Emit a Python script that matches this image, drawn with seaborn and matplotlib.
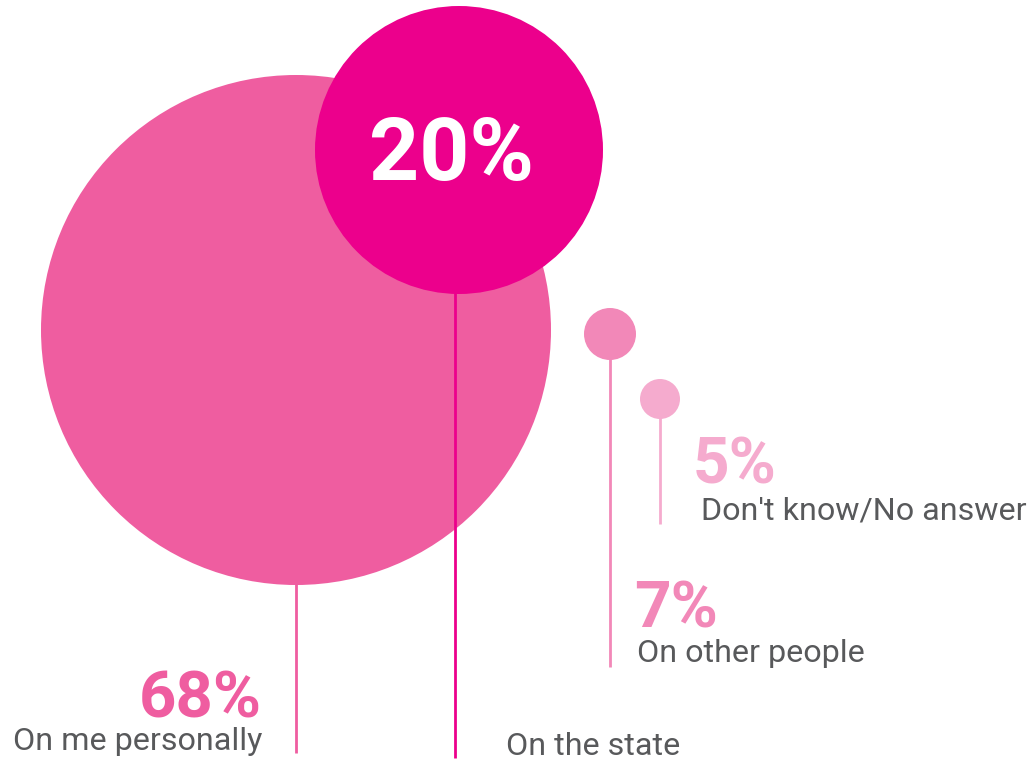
import matplotlib
matplotlib.use("Agg")
import matplotlib.pyplot as plt
from matplotlib.patches import Circle
import seaborn as sns

# ---- data ----
labels = ["On me personally", "On the state", "On other people", "Don't know/No answer"]
values = [68, 20, 7, 5]
colors = ["#EF5DA0", "#EC008C", "#F288B8", "#F5ABCE"]

# ---- layout (pixel space) ----
cx = [296, 459, 610, 660]
cy = [330, 150, 334, 399]
radius = [255, 144, 26, 20]
stem_x = [296, 455, 610, 660]
stem_end = [753, 758, 667, 524]
circle_z = [2, 4, 2, 2]
stem_z = [1, 3, 1, 1]

sns.set_theme(style="white")
plt.rcParams['font.family'] = ['Roboto', 'DejaVu Sans']

W, H = 1032, 761
fig = plt.figure(figsize=(W / 100, H / 100), dpi=100)
ax = fig.add_axes([0, 0, 1, 1])
ax.set_xlim(0, W)
ax.set_ylim(H, 0)
ax.set_aspect("equal")
ax.axis("off")

for i in range(4):
    ax.plot([stem_x[i], stem_x[i]], [cy[i] + radius[i] * 0.5, stem_end[i]],
            color=colors[i], lw=2, solid_capstyle="butt", zorder=stem_z[i])
    ax.add_patch(Circle((cx[i], cy[i]), radius[i], color=colors[i], lw=0,
                        zorder=circle_z[i]))

# ---- labels ----
grey = "#58595B"
lab_fs = 23.2
ax.text(262, 718, f"{values[0]}%", ha="right", va="baseline", fontsize=47,
        fontweight="bold", color=colors[0])
ax.text(262, 750, labels[0], ha="right", va="baseline", fontsize=lab_fs, color=grey)
ax.text(452, 180, f"{values[1]}%", ha="center", va="baseline", fontsize=63,
        fontweight="bold", color="white", zorder=6)
ax.text(506, 755, labels[1], ha="left", va="baseline", fontsize=lab_fs, color=grey)
ax.text(634, 628, f"{values[2]}%", ha="left", va="baseline", fontsize=46,
        fontweight="bold", color=colors[2])
ax.text(637, 662, labels[2], ha="left", va="baseline", fontsize=lab_fs, color=grey)
ax.text(693, 483, f"{values[3]}%", ha="left", va="baseline", fontsize=46,
        fontweight="bold", color=colors[3])
ax.text(701, 520, labels[3], ha="left", va="baseline", fontsize=lab_fs, color=grey)

fig.savefig("out.png", dpi=100, facecolor="white")
